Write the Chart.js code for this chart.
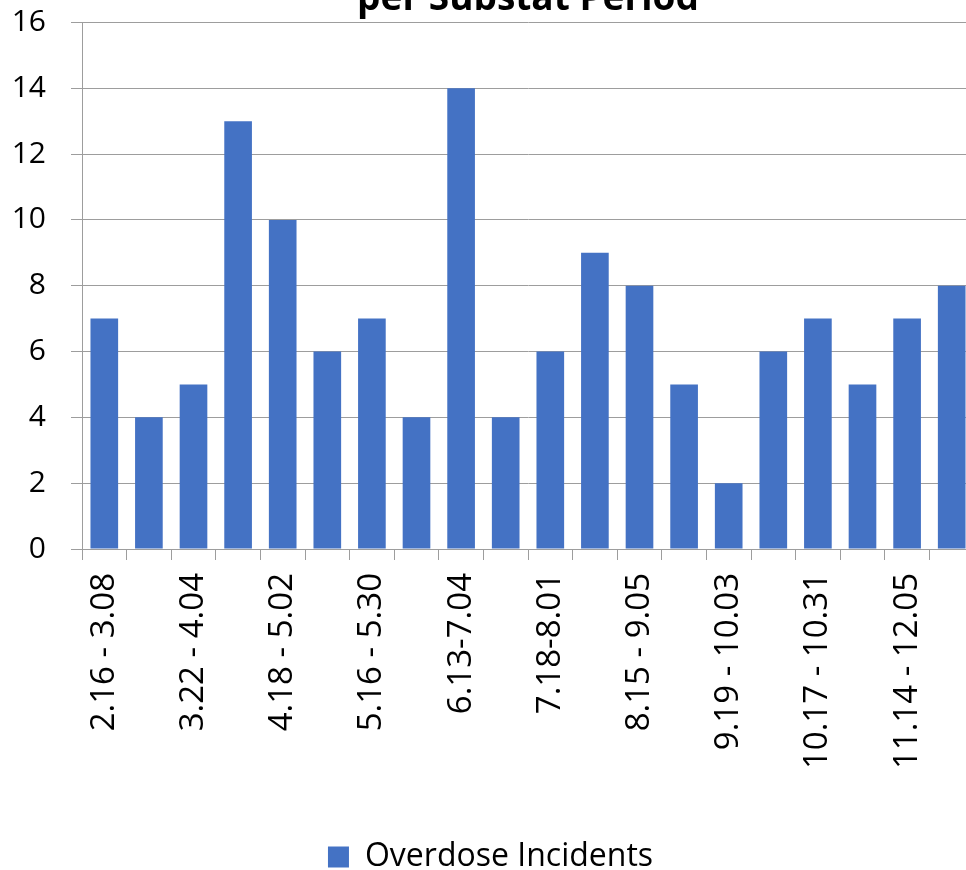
<!DOCTYPE html>
<html>
<head>
<meta charset="utf-8">
<script src="https://cdn.jsdelivr.net/npm/chart.js@4/dist/chart.umd.min.js"></script>
<style>
  html, body { margin: 0; padding: 0; background: #fff; overflow: hidden; width: 966px; height: 870px; }
  #wrap { position: absolute; left: 0; top: -40px; }
  canvas { display: block; }
</style>
</head>
<body>
<div id="wrap"><canvas id="chart" width="988" height="931"></canvas></div>
<script>
// Substat periods (every other period is labelled on the axis)
const periods = [
  '2.16 - 3.08', '', '3.22 - 4.04', '', '4.18 - 5.02', '', '5.16 - 5.30', '',
  '6.13-7.04', '', '7.18-8.01', '', '8.15 - 9.05', '', '9.19 - 10.03', '',
  '10.17 - 10.31', '', '11.14 - 12.05', ''
];
// Overdose incidents counted in each period
const incidents = [7, 4, 5, 13, 10, 6, 7, 4, 14, 4, 6, 9, 8, 5, 2, 6, 7, 5, 7, 8];
const yTicks = [0, 2, 4, 6, 8, 10, 12, 14, 16];

const FONT = '"Open Sans", Lato, sans-serif';
const GRID = '#9d9d9d';

new Chart(document.getElementById('chart'), {
  type: 'bar',
  data: {
    labels: periods,
    datasets: [{
      label: 'Overdose Incidents',
      data: incidents,
      backgroundColor: '#4472C4',
      borderWidth: 0,
      categoryPercentage: 1,
      barPercentage: 0.62
    }]
  },
  options: {
    responsive: false,
    animation: false,
    layout: { padding: { left: 7, right: 14, top: 0, bottom: 8 } },
    plugins: {
      tooltip: { enabled: false },
      title: {
        display: true,
        text: 'per Substat Period',
        fullSize: false,
        color: '#000',
        font: { family: FONT, size: 37, weight: 'bold' },
        lineHeight: 1.2,
        padding: { top: 17, bottom: 1 }
      },
      legend: {
        position: 'bottom',
        labels: {
          color: '#000',
          font: { family: FONT, size: 32 },
          boxWidth: 21,
          boxHeight: 21,
          padding: 10
        }
      }
    },
    scales: {
      x: {
        offset: true,
        grid: {
          offset: true,
          drawOnChartArea: false,
          drawTicks: true,
          tickLength: 11,
          color: GRID
        },
        border: { color: GRID },
        ticks: {
          autoSkip: false,
          minRotation: 90,
          maxRotation: 90,
          padding: 13,
          color: '#000',
          font: { family: FONT, size: 33 }
        },
        afterFit: (s) => {
          s.height = 282;
          s.paddingLeft = 0;
          s.paddingRight = 0;
        }
      },
      y: {
        min: 0,
        max: 16,
        afterBuildTicks: (s) => { s.ticks = yTicks.map(v => ({ value: v })); },
        grid: { color: GRID, tickLength: 11 },
        border: { color: GRID },
        ticks: {
          padding: 25,
          color: '#000',
          font: { family: FONT, size: 30 }
        },
        afterFit: (s) => { s.width = 75; }
      }
    }
  }
});
</script>
</body>
</html>
